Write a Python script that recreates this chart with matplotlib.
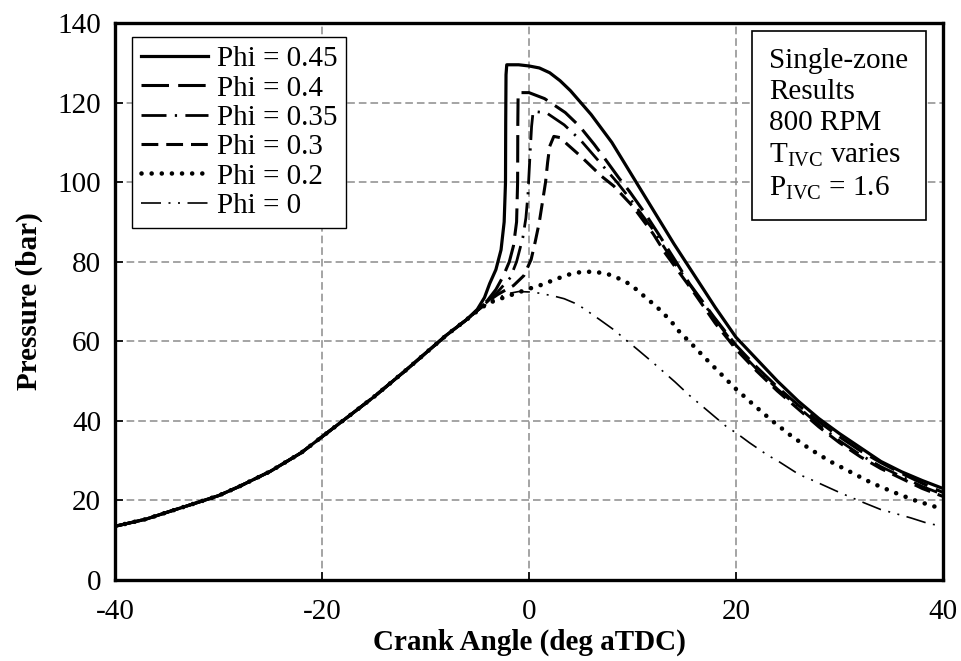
import numpy as np
import matplotlib.pyplot as plt

plt.rcParams['font.family'] = ['Liberation Serif', 'DejaVu Serif']
plt.rcParams['mathtext.fontset'] = 'custom'
plt.rcParams['mathtext.rm'] = 'Liberation Serif'
plt.rcParams['axes.unicode_minus'] = False

# common compression stroke
comp_deg = [-40, -37, -35, -32, -30, -28, -25, -22, -20, -18, -15, -12, -10, -8, -6]
comp_p = [13.5, 15.3, 17.0, 19.5, 21.2, 23.5, 27.3, 32.0, 36.0, 40.0, 46.0, 52.5, 57.0, 61.5, 65.5]

# Phi = 0.45
deg_045 = [-5, -4.3, -3.8, -3.2, -2.7, -2.4, -2.27, -2.25, -2.22, -2.15, -1, 0, 1, 2, 3, 4, 5, 6, 8, 10,
           12, 14, 16, 18, 20, 22, 24, 26, 28, 30, 32, 34, 36, 38, 40]
p_045 = [68, 71, 74.5, 78, 83, 90, 100, 115, 127, 129.5, 129.5, 129.2, 128.7, 127.5, 125.5, 123, 120, 117,
         110, 101.5, 93, 84.5, 76.5, 68.5, 61, 55.5, 50, 45, 40.6, 36.8, 33.3, 29.8, 27.2, 25, 23]

# Phi = 0.4
deg_04 = [-5, -4, -3.2, -2.5, -1.9, -1.5, -1.2, -1.1, -1.08, -1.05, 0, 1.5, 3.5, 4.9, 6.3, 7.3, 8.7, 9.7,
          11.2, 12.5, 14.2, 15.5, 17.9, 20, 22, 24, 26, 28, 30, 32, 34, 36, 38, 40]
p_04 = [67.8, 70.3, 73, 76.3, 80, 84, 90, 100, 115, 122.5, 122.5, 121, 117.5, 114, 109.5, 106, 101, 97.7,
        92.2, 87, 80, 74.5, 66, 59, 53.5, 48.5, 44, 39.8, 36, 32.5, 29.5, 26.8, 24.3, 22]

# Phi = 0.35
deg_035 = [-5, -4, -3, -1.8, -1.2, -0.6, -0.3, -0.1, 0.1, 0.25, 0.4, 1.7, 3.4, 5, 7, 8.5, 10, 12, 13.7,
           16, 18, 20, 22, 24, 26, 28, 30, 32, 34, 36, 38, 40]
p_035 = [67.7, 70, 72.5, 76, 80, 86, 91, 97, 107, 114, 117.8, 117.4, 114.4, 110.5, 104.5, 100, 95, 88, 81,
         72.5, 65.5, 58.5, 53, 48, 43.5, 39, 35, 31.5, 28.5, 26, 23.5, 21.5]

# Phi = 0.3
deg_03 = [-5, -4, -3, -1.5, -0.5, 0.2, 0.6, 1.0, 1.3, 1.6, 1.8, 2.0, 2.4, 3.0, 3.7, 5, 7, 8.2, 10, 12,
          13.2, 16, 18, 20, 22, 24, 26, 28, 30, 32, 34, 36, 38, 40]
p_03 = [67.7, 70, 71.8, 74, 76.5, 80.5, 85, 90, 95, 100, 105, 109, 111.5, 111.2, 109.5, 106.5, 101.5, 99,
        94, 87, 82, 72, 64.5, 58, 52.5, 47.5, 43, 38.5, 34.5, 31, 28, 25.5, 23, 21]

# Phi = 0.2
deg_02 = [-5, -4, -3, -2.2, -1, 0, 1, 2, 3, 4, 5, 6.2, 7.5, 8.5, 9.5, 10.5, 11.3, 12.2, 13, 13.8, 14.5,
          15.3, 16.1, 16.9, 17.7, 18.5, 19.3, 20, 21.8, 23.5, 25.3, 27.1, 29.1, 31.1, 33.1, 35.2, 37.3, 40]
p_02 = [67.6, 69.5, 70.5, 71.2, 72.3, 73.2, 74, 75, 76, 76.9, 77.4, 77.5, 77, 76, 74.7, 72.8, 70.9, 69,
        67, 64.8, 62.5, 60.4, 58.3, 56.1, 54, 51.9, 49.8, 48, 43.8, 40, 36.3, 33, 29.8, 27.1, 24.4, 22.1,
        20, 17.8]

# Phi = 0
deg_0 = [-5, -4, -3, -2, -1, 0, 1, 2.5, 3.4, 4.4, 5.2, 6.8, 8.3, 9.1, 10.5, 12, 14.1, 15.5, 17.6, 19.1,
         20, 21.3, 23.1, 24, 26.1, 27.2, 30, 32, 34, 35, 36.9, 38.7, 40]
p_0 = [67.5, 69.5, 71, 72, 72.5, 72.4, 72.1, 71.3, 70.7, 69.6, 68.4, 65.5, 62.7, 60.9, 57.9, 54.6, 49.8,
       46.4, 41.8, 38.5, 37, 34.5, 31.3, 30, 26.5, 25.3, 22, 19.8, 17.7, 17, 15.6, 14.1, 13.6]

labels = ['Phi = 0.45', 'Phi = 0.4', 'Phi = 0.35', 'Phi = 0.3', 'Phi = 0.2', 'Phi = 0']
series = [(deg_045, p_045), (deg_04, p_04), (deg_035, p_035), (deg_03, p_03), (deg_02, p_02), (deg_0, p_0)]

styles = [
    dict(lw=2.3, ls='-'),
    dict(lw=2.2, ls=(0, (9.0, 3.0))),
    dict(lw=2.0, ls=(0, (9.0, 3.0, 0.8, 3.0))),
    dict(lw=2.2, ls=(0, (5.5, 2.6))),
    dict(lw=3.3, ls=(0, (0.01, 2.2)), dash_capstyle='round'),
    dict(lw=1.2, ls=(0, (12.0, 4.5, 1.2, 4.5, 1.2, 4.5))),
]

fig = plt.figure(figsize=(9.61, 6.61), dpi=100)
ax = fig.add_axes([115 / 961, 1 - 580 / 661, 828 / 961, 557 / 661])

for (d, p), lab, st in zip(series, labels, styles):
    x = np.array(comp_deg + d)
    y = np.array(comp_p + p)
    ax.plot(x, y, color='black', label=lab, zorder=3, **st)

ax.set_xlim(-40, 40)
ax.set_ylim(0, 140)
ax.set_xticks([-40, -20, 0, 20, 40])
ax.set_yticks(np.arange(0, 141, 20))

for gx in [-20, 0, 20]:
    ax.axvline(gx, color='#8c8c8c', lw=1.1, ls=(0, (5.0, 2.6)), zorder=1)
for gy in range(20, 140, 20):
    ax.axhline(gy, color='#8c8c8c', lw=1.1, ls=(0, (5.0, 2.6)), zorder=1)

for s in ax.spines.values():
    s.set_linewidth(2.4)
ax.tick_params(direction='in', length=6, width=1.2, labelsize=21)
ax.tick_params(axis='x', pad=14)
ax.tick_params(axis='y', pad=10)

ax.set_xlabel('Crank Angle (deg aTDC)', fontsize=21, fontweight='bold', labelpad=2)
ax.set_ylabel('Pressure (bar)', fontsize=21, fontweight='bold', labelpad=10)

leg = ax.legend(loc='upper left', bbox_to_anchor=(17 / 828, 1 - 14 / 557), borderaxespad=0,
                fontsize=21, handlelength=2.3, handletextpad=0.3, labelspacing=0.1,
                borderpad=0.3, fancybox=False, framealpha=1, edgecolor='black')
leg.get_frame().set_linewidth(1.0)

box_text = ('Single-zone\nResults\n800 RPM\n'
            'T$_{\\mathrm{IVC}}$ varies\nP$_{\\mathrm{IVC}}$ = 1.6')
ax.text((769 - 115) / 828, 1 - (48 - 23) / 557, box_text, transform=ax.transAxes, fontsize=21,
        va='top', ha='left', linespacing=1.25, zorder=5,
        bbox=dict(boxstyle='square,pad=0.6', fc='white', ec='black', lw=1.2))

fig.savefig('out.png', dpi=100)
